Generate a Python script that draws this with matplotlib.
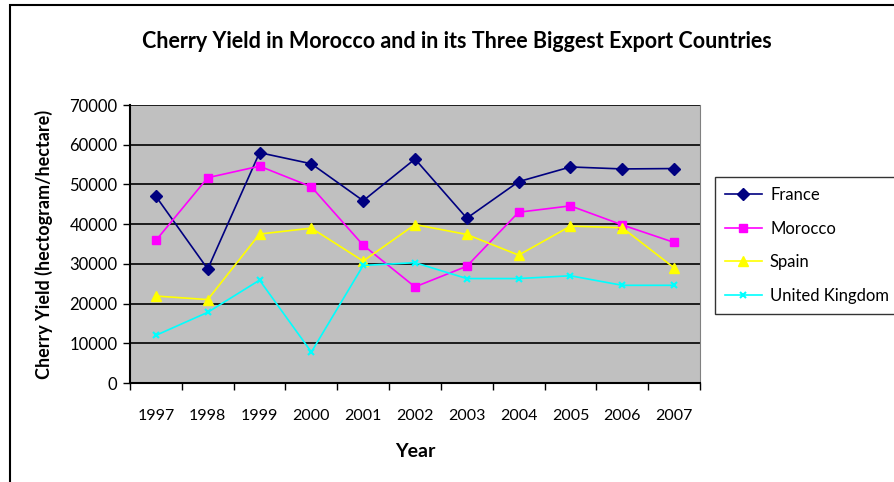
import numpy as np
import matplotlib
matplotlib.use("Agg")
import matplotlib.pyplot as plt
from matplotlib.patches import Rectangle

years = ['1997', '1998', '1999', '2000', '2001', '2002', '2003', '2004', '2005', '2006', '2007']
france = [47000, 28700, 58000, 55200, 45900, 56400, 41500, 50700, 54400, 53900, 54000]
morocco = [35900, 51700, 54600, 49400, 34700, 24200, 29400, 43000, 44600, 39800, 35400]
spain = [21900, 21000, 37500, 39000, 30700, 39900, 37400, 32200, 39500, 39100, 29000]
uk = [12000, 17800, 25900, 7800, 29600, 30300, 26300, 26300, 27000, 24600, 24600]

series = [
    ('France', france, '#000080', 'D', 6),
    ('Morocco', morocco, '#FF00FF', 's', 6),
    ('Spain', spain, '#FFFF00', '^', 7),
    ('United Kingdom', uk, '#00FFFF', 'x', 5),
]

plt.rcParams['font.family'] = ['Lato', 'DejaVu Sans']

fig = plt.figure(figsize=(8.94, 4.82), dpi=100)
fig.patch.set_facecolor('white')

# outer chart border (runs off the right and bottom edges)
fig.patches.append(Rectangle((10 / 894, -0.1), 1.2, 1 - 5 / 482 + 0.1,
                             transform=fig.transFigure, fill=False,
                             edgecolor='black', linewidth=1.5))

ax = fig.add_axes([130 / 894, 1 - 383 / 482, 570 / 894, 278 / 482])
ax.set_facecolor('#C0C0C0')

x = np.arange(len(years))
for name, vals, col, mk, ms in series:
    ax.plot(x, vals, color=col, marker=mk, markersize=ms, linewidth=1.2,
            markeredgecolor=col, markeredgewidth=1.5 if mk == 'x' else 1, label=name)

ax.set_ylim(0, 70000)
ax.set_yticks(np.arange(0, 70001, 10000))
ax.yaxis.grid(True, color='black', linewidth=1.2)
ax.set_axisbelow(True)
ax.tick_params(axis='y', direction='out', length=5, width=1, labelsize=12, pad=4)

ax.set_xlim(-0.5, len(years) - 0.5)
ax.set_xticks(np.arange(-0.5, len(years), 1))
ax.set_xticklabels([])
ax.set_xticks(x, minor=True)
ax.set_xticklabels(years, minor=True)
ax.tick_params(axis='x', which='major', direction='out', length=5, width=1)
ax.tick_params(axis='x', which='minor', length=0, labelsize=11.5, pad=19)

for s in ['left', 'bottom']:
    ax.spines[s].set_linewidth(1.5)
ax.spines['top'].set_visible(False)
ax.spines['right'].set_color('#808080')

ax.set_xlabel('Year', fontsize=14, fontweight='bold', labelpad=14)
ax.set_ylabel('Cherry Yield (hectogram/hectare)', fontsize=13, fontweight='bold', labelpad=12)

fig.text(457 / 894, 1 - 42 / 482, 'Cherry Yield in Morocco and in its Three Biggest Export Countries',
         ha='center', va='center', fontsize=15.5, fontweight='bold')

leg = ax.legend(loc='upper left', bbox_to_anchor=(715 / 894, 1 - 177 / 482),
                bbox_transform=fig.transFigure, frameon=True, fancybox=False,
                edgecolor='black', fontsize=12, handlelength=2.2, handletextpad=0.5,
                labelspacing=1.05, borderpad=0.6, borderaxespad=0)
leg.get_frame().set_linewidth(1)

fig.savefig('out.png', dpi=100)
